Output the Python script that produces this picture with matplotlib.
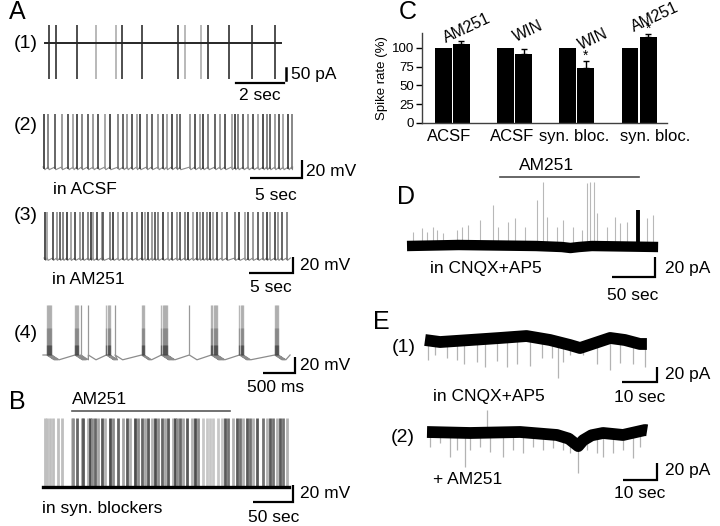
import numpy as np
import matplotlib
matplotlib.use('Agg')
import matplotlib.pyplot as plt

plt.rcParams['font.family'] = ['Liberation Sans', 'DejaVu Sans']

# ---------------- data ----------------
# A(1): spike times (s), voltage-clamp action currents (pA)
A1_T = 9.83
A1_spk = [0.17, 0.46, 1.33, 2.13, 2.96, 3.21, 4.04, 5.54, 5.83, 6.5, 6.79, 7.67, 8.63, 9.58]
A1_up, A1_down = 75, -150

# A(2): in ACSF, spike times (s), amplitude (mV)
A2_T = 24.0
A2_spk = [0.1, 0.51, 1.15, 1.79, 2.43, 2.91, 3.24, 3.72, 4.3, 4.84, 5.32, 5.96, 6.44, 7.24,
          7.72, 8.11, 8.53, 9.01, 9.33, 9.97, 10.45, 11.09, 11.57, 11.89, 12.37, 12.85, 13.17,
          14.13, 14.61, 15.1, 15.41, 15.89, 16.54, 17.02, 17.5, 18.14, 18.46, 18.78, 19.26,
          19.74, 20.22, 20.7, 21.18, 21.51, 21.83, 22.31, 22.72, 23.1, 23.59, 23.91]
A2_amp = 59

# A(3): in AM251
A3_T = 28.0
A3_spk = [0.11, 0.38, 0.99, 1.44, 1.82, 2.19, 2.58, 3.03, 3.52, 4.09, 4.47, 5.03, 5.31, 5.6,
          6.06, 6.56, 6.74, 7.5, 7.88, 8.44, 9.01, 9.47, 9.97, 10.53, 11.1, 11.48, 11.85, 12.24,
          12.61, 12.99, 13.56, 14.13, 14.51, 15.08, 15.45, 16.02, 16.4, 16.9, 17.35, 17.73, 18.1,
          18.49, 18.86, 19.24, 19.62, 20.19, 20.76, 21.7, 22.19, 22.84, 23.22, 23.72, 24.35,
          24.92, 25.3, 25.68, 26.25, 26.62, 27.01, 27.58]
A3_amp = 57.5

# A(4): bursts (start s, number of spikes) and single spikes
A4_T = 3.86
A4_burst_start = [0.059, 0.50, 0.99, 1.54, 1.85, 2.63, 3.07, 3.62]
A4_burst_n = [5, 4, 4, 3, 6, 6, 4, 4]
A4_single = [0.589, 0.708, 1.125, 2.286]
A4_amp = 62.5
A4_isi = 0.018

# B: in synaptic blockers, AM251 applied
B_T = 307.5
B_spk = [2.5, 5.4, 8.8, 12.9, 19.1, 23.4, 35.9, 37.9, 42.1, 48.4, 50.4, 56.6, 58.8, 61.6, 65,
         69.1, 73.4, 77.5, 83.8, 87.9, 94.1, 100.4, 104.6, 108.8, 115, 119.1, 123.4, 127.5,
         131.6, 135.9, 140, 144.1, 148.4, 152.5, 156.6, 162.9, 165, 167.1, 171.3, 175.4, 179.6,
         185.9, 190, 194.1, 200.4, 204.6, 208.8, 212.9, 219.1, 223.4, 227.5, 231.6, 237.9,
         242.1, 246.3, 250.4, 254.6, 258.8, 262.9, 267.1, 275.4, 279.6, 283.8, 287.9, 292.1,
         296.3, 300.4, 304.6]
B_amp = 81
B_drug = (36, 234)

# C: spike rate (%)
C_groups = ['ACSF', 'ACSF', 'syn. bloc.', 'syn. bloc.']
C_drugs = ['AM251', 'WIN', 'WIN', 'AM251']
C_ctrl = [100, 100, 100, 100]
C_drug = [105, 92.5, 73, 114.5]
C_err = [4, 5.5, 10, 4.5]
C_sig = [False, False, True, True]
C_yticks = [0, 25, 50, 75, 100]

# D: in CNQX+AP5, upward events (s, pA)
D_T = 292
D_ev_t = [7.3, 17.1, 22.9, 30.6, 34.5, 42.2, 57.8, 63.6, 71.3, 84.9, 100.3, 106.2, 117.8, 125.6,
          137.2, 150.8, 158.5, 162.4, 174.1, 181.7, 193.4, 203.1, 209, 212.8, 217.4, 220.6,
          232.2, 241.9, 247.7, 255.5, 278.7, 286.4]
D_ev_amp = [14, 18, 14, 19, 16, 13, 16, 19, 21, 26, 41, 19, 24, 28, 19, 46, 64, 29, 19, 26, 19,
            16, 63, 64, 64, 33, 19, 29, 23, 24, 28, 31]
D_burst_t, D_burst_amp = 269, 36
D_drift_t = [0, 60, 150, 180, 190, 200, 215, 292]
D_drift_v = [0, 1, 0, -1, -2, -1, 0, -1]
D_drug = (108, 270)

# E(1): baseline drift and downward events
E1_base_t = [0, 4.3, 12.9, 21.4, 29, 35.7, 41.4, 44.3, 48.6, 52.9, 57.1, 61.4, 63.4]
E1_base_v = [0, -2.7, 0, 2.7, 5.3, 0, -6.7, -10.7, -4, 2.7, 0, -5.3, -5.3]
E1_ev_t = [0.95, 2.9, 6.2, 9.0, 11, 14.8, 17.1, 20.5, 23.3, 26.2, 30, 33.3, 36.2, 38.1, 39.5,
           41.4, 45.2, 49, 52.9, 55.7, 59.5, 62.9]
E1_ev_v = [-26.7, -20, -24, -27, -32, -29, -36, -28, -36, -32, -35, -24, -24, -51, -29, -20,
           -20, -32, -40, -31, -32, -36]

# E(2): + AM251
E2_base_t = [0, 12.3, 26.6, 37.1, 40.5, 42.3, 43.2, 44.6, 47, 50.3, 56, 62.3, 62.9]
E2_base_v = [0, -1.2, 0, -3.6, -8, -14, -17, -10, -4, -1.2, -3.6, 2.4, 2]
E2_ev_t = [0.9, 3.7, 6.6, 8.5, 10.9, 12.3, 15.1, 18, 21.8, 24.7, 27.5, 30.4, 33.2, 36.1, 38.9,
           40.9, 43.2, 45.6, 48.5, 50.4, 53.2, 56.1, 58.9, 60.9]
E2_ev_v = [-17.7, -13.6, -29.7, -21.7, -41.8, -21.7, -17.7, -23.7, -29.7, -21.7, -25.7, -17.7,
           -21.7, -19.6, -21.7, -25.7, -49.8, -21.7, -25.7, -29.7, -25.7, -21.7, -31.7, -17.7]
E2_up_t, E2_up_v = 17.0, 26.5

# ---------------- figure ----------------
W, H = 720, 526
fig = plt.figure(figsize=(7.2, 5.26), dpi=100)


def trace_ax(x0, sx, y0, sy):
    """Full-figure transparent axes: data t -> pixel x0 + t*sx, v -> pixel y0 - v*sy."""
    ax = fig.add_axes([0, 0, 1, 1])
    ax.set_axis_off()
    ax.patch.set_alpha(0)
    ax.set_xlim(-x0 / sx, (W - x0) / sx)
    ax.set_ylim((y0 - H) / sy, y0 / sy)
    return ax


def T(x, y, s, size=12.5, ha='left', va='center', rot=0, **kw):
    fig.text(x / W, 1 - y / H, s, fontsize=size, ha=ha, va=va, rotation=rot,
             rotation_mode='anchor', **kw)


def lbar(ax, t0, t1, v0, v1, lw=1.6):
    ax.plot([t0, t1, t1], [v0, v0, v1], color='k', lw=lw, solid_capstyle='butt',
            solid_joinstyle='miter')


def ahp(spk, Tend, depth, lag):
    xs, ys = [0], [0]
    for s in spk:
        xs += [s, s + lag]
        ys += [0, depth]
    xs.append(Tend)
    ys.append(0)
    return xs, ys


shades = ['0.2', '0.45', '0.3', '0.55', '0.25', '0.6']

# ---- A(1)
ax = trace_ax(45, 24, 43, 0.24)
light = {3, 4, 8, 9}
cols = ['0.7' if i in light else '0.25' for i in range(len(A1_spk))]
ax.vlines(A1_spk, A1_down, A1_up, colors=cols, lw=1.3)
ax.plot([0, A1_T], [0, 0], color='0.15', lw=1.4)
ax.plot([(236 - 45) / 24, (284 - 45) / 24], [-166.7, -166.7], color='k', lw=1.6)
ax.plot([(286 - 45) / 24] * 2, [-154, -104], color='k', lw=1.8)

# ---- A(2)
ax = trace_ax(43, 10.4, 167, 0.9)
xs, ys = ahp(A2_spk, A2_T, -3, 0.08)
ax.plot(xs, ys, color='0.55', lw=0.8)
ax.vlines(A2_spk, -2, A2_amp, colors=[shades[i % 6] for i in range(len(A2_spk))], lw=1.2)
lbar(ax, (250 - 43) / 10.4, (302 - 43) / 10.4, -12.2, 7.8)

# ---- A(3)
ax = trace_ax(44, 8.8, 258, 0.8)
xs, ys = ahp(A3_spk, A3_T, -3, 0.08)
ax.plot(xs, ys, color='0.55', lw=0.8)
ax.vlines(A3_spk, -2, A3_amp, colors=[shades[(i * 5) % 6] for i in range(len(A3_spk))], lw=1.2)
lbar(ax, (249 - 44) / 8.8, (293 - 44) / 8.8, -18.75, 1.25)

# ---- A(4)
ax = trace_ax(43, 64, 355, 0.8)
burst_spk = []
for s, n in zip(A4_burst_start, A4_burst_n):
    burst_spk += [s + k * A4_isi for k in range(n)]
events = sorted(burst_spk + A4_single)
xs, ys = ahp(events, A4_T, -6, 0.12)
ax.plot(xs, ys, color='0.55', lw=0.9)
ax.vlines(burst_spk, 0, A4_amp, colors='0.6', lw=1.0, alpha=0.7)
ax.vlines(burst_spk, 0, A4_amp * 0.55, colors='0.35', lw=1.0, alpha=0.35)
ax.vlines(burst_spk, 0, A4_amp * 0.2, colors='0.1', lw=1.0, alpha=0.4)
ax.vlines(A4_single, 0, A4_amp, colors='0.6', lw=0.9)
lbar(ax, (263 - 43) / 64, (295 - 43) / 64, -22.5, -2.5)

# ---- B
ax = trace_ax(43, 0.8, 487, 0.85)
bcols = []
for t in B_spk:
    if t < 36:
        bcols.append('0.75')
    elif t < 200:
        bcols.append(['0.3', '0.55', '0.4', '0.65', '0.35', '0.7'][len(bcols) % 6])
    elif t < 225:
        bcols.append('0.78')
    else:
        bcols.append(['0.45', '0.7', '0.35'][len(bcols) % 3])
ax.vlines(B_spk, 0, B_amp, colors=bcols, lw=2.0)
ax.plot([0, B_T], [0, 0], color='k', lw=2.4)
ax.plot(list(B_drug), [89.4, 89.4], color='0.35', lw=1.2)
lbar(ax, (253 - 43) / 0.8, (293 - 43) / 0.8, -17.6, 2.4)

# ---- C bar chart
axc = fig.add_axes([422 / W, 1 - 123 / H, (667 - 422) / W, 90 / H])
xg = np.arange(len(C_groups))
bw = 0.273
axc.bar(xg - 0.145, C_ctrl, width=bw, color='k')
axc.bar(xg + 0.145, C_drug, width=bw, color='k')
axc.errorbar(xg + 0.145, C_drug, yerr=[np.zeros(4), C_err], fmt='none', ecolor='k',
             elinewidth=1, capsize=2.5, capthick=1)
for i, sig in enumerate(C_sig):
    if sig:
        axc.text(xg[i] + 0.145, C_drug[i] + C_err[i] + 7, '*', ha='center', va='center',
                 fontsize=10, clip_on=False)
axc.set_xlim(-0.49, 3.45)
axc.set_ylim(0, 120)
axc.set_yticks(C_yticks)
# label centres sit slightly off the group centres in the original
label_shift = np.array([-0.056, -0.043, -0.047, 0.256])
axc.set_xticks(xg + label_shift)
axc.set_xticklabels(C_groups, fontsize=12)
axc.tick_params(axis='y', labelsize=9.5, length=4, width=1, pad=1.5)
axc.tick_params(axis='x', length=0, pad=4.5)
for s in ['top', 'right']:
    axc.spines[s].set_visible(False)
for s in ['left', 'bottom']:
    axc.spines[s].set_linewidth(1.0)
    axc.spines[s].set_color('0.25')
T(382, 78, 'Spike rate (%)', size=9.5, ha='center', rot=90)
for (x, y), s in zip([(467, 28), (528, 31), (593, 39), (655, 17)], C_drugs):
    T(x, y, s, size=11.5, ha='center', rot=25)

# ---- D
ax = trace_ax(407, 0.86, 246, 1.0)
ax.vlines(D_ev_t, 0, D_ev_amp, colors='0.72', lw=0.8)
ax.plot(D_drift_t, D_drift_v, color='k', lw=7.5, solid_capstyle='butt')
ax.vlines([D_burst_t], 0, D_burst_amp, colors='k', lw=2.8)
ax.plot(list(D_drug), [69, 69], color='0.3', lw=1.2)
lbar(ax, (612 - 407) / 0.86, (655 - 407) / 0.86, -31, -11)

# ---- E(1)
ax = trace_ax(425, 3.5, 340, 0.75)
b1 = np.interp(E1_ev_t, E1_base_t, E1_base_v)
ax.vlines(E1_ev_t, b1, E1_ev_v, colors='0.7', lw=0.9)
ax.plot(E1_base_t, E1_base_v, color='k', lw=8.5, solid_capstyle='butt',
        solid_joinstyle='round')
lbar(ax, (622 - 425) / 3.5, (657 - 425) / 3.5, -56, -36)

# ---- E(2)
ax = trace_ax(427, 3.5, 432, 0.83)
b2 = np.interp(E2_ev_t, E2_base_t, E2_base_v)
ax.vlines(E2_ev_t, b2, E2_ev_v, colors='0.7', lw=0.9)
ax.vlines([E2_up_t], 0, E2_up_v, colors='0.7', lw=0.9)
ax.plot(E2_base_t, E2_base_v, color='k', lw=8.5, solid_capstyle='butt',
        solid_joinstyle='round')
lbar(ax, (623 - 427) / 3.5, (657 - 427) / 3.5, -57.8, -37.8)

# ---------------- texts ----------------
T(17, 12, 'A', size=18, ha='center')
T(408, 12, 'C', size=18, ha='center')
T(17, 402, 'B', size=18, ha='center')
T(406, 197, 'D', size=18, ha='center')
T(381, 322, 'E', size=18, ha='center')

T(26, 43, '(1)', size=14, ha='center')
T(26, 125, '(2)', size=14, ha='center')
T(26, 215, '(3)', size=14, ha='center')
T(26, 334, '(4)', size=14, ha='center')
T(404, 347, '(1)', size=14, ha='center')
T(403, 437, '(2)', size=14, ha='center')

T(260, 96, '2 sec', ha='center')
T(291, 74, '50 pA')
T(306, 171, '20 mV')
T(276, 195, '5 sec', ha='center')
T(53, 189, 'in ACSF')
T(300, 265, '20 mV')
T(271, 288, '5 sec', ha='center')
T(52, 280, 'in AM251')
T(300, 365, '20 mV')
T(276, 388, '500 ms', ha='center')
T(100, 400, 'AM251', ha='center')
T(300, 493, '20 mV')
T(274, 517, '50 sec', ha='center')
T(42, 509, 'in syn. blockers')

T(547, 165, 'AM251', ha='center')
T(665, 268, '20 pA')
T(633, 295, '50 sec', ha='center')
T(430, 268, 'in CNQX+AP5')

T(665, 374, '20 pA')
T(640, 397, '10 sec', ha='center')
T(433, 397, 'in CNQX+AP5')
T(665, 471, '20 pA')
T(640, 493, '10 sec', ha='center')
T(433, 480, '+ AM251')

fig.savefig('out.png', dpi=100)
